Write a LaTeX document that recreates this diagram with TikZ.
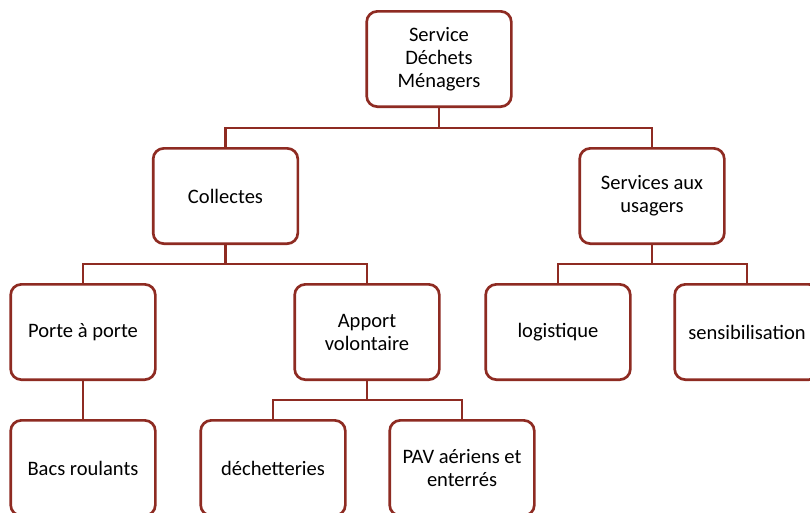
\documentclass[tikz,border=0pt]{standalone}
\usepackage{fontspec}
\setmainfont{Carlito}
\definecolor{boxred}{HTML}{8E2B22}
\begin{document}
\begin{tikzpicture}[x=0.75pt,y=-0.75pt,
  orgbox/.style={draw=boxred,line width=2pt,rounded corners=8pt,fill=white,
    minimum width=108.5pt,minimum height=71.5pt,align=center,
    font=\fontsize{15.4}{17.25}\selectfont,text=black,inner sep=2pt},
  link/.style={draw=boxred,line width=2pt}]
\path[use as bounding box,clip] (0,0) rectangle (810,512);
\fill[white] (0,0) rectangle (810,512);
\node[orgbox] (root) at (439,59) {Service\\Déchets\\Ménagers};
\node[orgbox] (col) at (225.5,196) {Collectes};
\node[orgbox] (srv) at (652,196) {Services aux\\usagers};
\node[orgbox] (pap) at (83,332) {Porte à porte};
\node[orgbox] (app) at (367,332) {Apport\\volontaire};
\node[orgbox] (log) at (558,332) {logistique};
\node[orgbox] (sen) at (747,332) {sensibilisation};
\node[orgbox] (bac) at (83,468) {Bacs roulants};
\node[orgbox] (dec) at (273,468) {déchetteries};
\node[orgbox] (pav) at (462,468) {PAV aériens et\\enterrés};
\coordinate (b1) at (0,128);
\coordinate (b2) at (0,264);
\coordinate (b3) at (0,400);
\draw[link] (root.south) -- (root.south |- b1) -| (col.north);
\draw[link] (root.south |- b1) -| (srv.north);
\draw[link] (col.south) -- (col.south |- b2) -| (pap.north);
\draw[link] (col.south |- b2) -| (app.north);
\draw[link] (srv.south) -- (srv.south |- b2) -| (log.north);
\draw[link] (srv.south |- b2) -| (sen.north);
\draw[link] (pap.south) -- (bac.north);
\draw[link] (app.south) -- (app.south |- b3) -| (dec.north);
\draw[link] (app.south |- b3) -| (pav.north);
\end{tikzpicture}
\end{document}
